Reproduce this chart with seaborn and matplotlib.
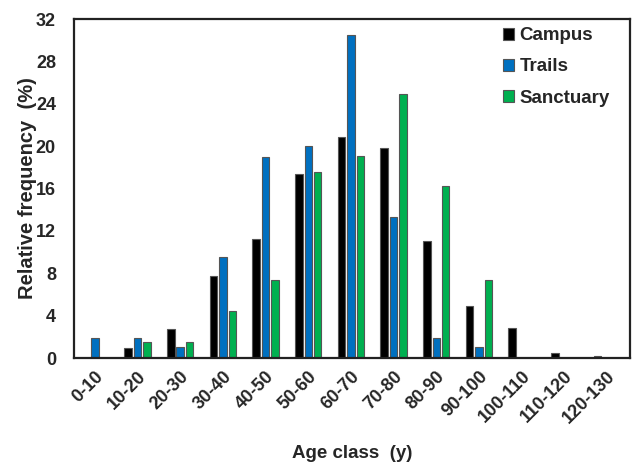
import matplotlib
matplotlib.use("Agg")
import matplotlib.pyplot as plt
import seaborn as sns
import pandas as pd

categories = ["0-10", "10-20", "20-30", "30-40", "40-50", "50-60", "60-70",
              "70-80", "80-90", "90-100", "100-110", "110-120", "120-130"]
campus = [0.0, 0.9, 2.7, 7.7, 11.2, 17.4, 20.9, 19.8, 11.0, 4.9, 2.8, 0.5, 0.2]
trails = [1.9, 1.9, 1.0, 9.5, 19.0, 20.0, 30.5, 13.3, 1.9, 1.0, 0.0, 0.0, 0.0]
sanctuary = [0.0, 1.5, 1.5, 4.4, 7.4, 17.6, 19.1, 24.9, 16.2, 7.4, 0.0, 0.0, 0.0]
series = ["Campus", "Trails", "Sanctuary"]
colors = ["#000000", "#0070C0", "#00B050"]
yticks = [0, 4, 8, 12, 16, 20, 24, 28, 32]

rows = []
for name, vals in zip(series, [campus, trails, sanctuary]):
    for c, v in zip(categories, vals):
        rows.append({"Age": c, "Freq": v, "Site": name})
df = pd.DataFrame(rows)

sns.set_style("white")
plt.rcParams["font.family"] = ["Liberation Sans", "DejaVu Sans"]
plt.rcParams["font.weight"] = "bold"

fig = plt.figure(figsize=(6.33, 4.65), dpi=100)
ax = fig.add_axes([74 / 633, 1 - 358 / 465, (630 - 74) / 633, (358 - 19) / 465])

sns.barplot(data=df, x="Age", y="Freq", hue="Site", order=categories,
            hue_order=series, palette=colors, saturation=1, width=0.66, gap=0.2,
            edgecolor="#555555", linewidth=0.8, ax=ax, legend=True)

ax.set_xlim(-0.49, len(categories) - 0.46)
ax.set_ylim(0, 32)
ax.set_yticks(yticks)
ax.set_yticklabels([str(t) for t in yticks], fontsize=13, fontweight="bold")
ax.set_xticks(range(len(categories)))
ax.set_xticklabels(categories, rotation=45, ha="right", rotation_mode="anchor",
                   fontsize=13, fontweight="bold")
ax.tick_params(axis="both", length=0)
ax.tick_params(axis="y", pad=13)
ax.tick_params(axis="x", pad=7)
ax.set_xlabel("Age class  (y)", fontsize=13.5, fontweight="bold", labelpad=13)
ax.set_ylabel("Relative frequency  (%)", fontsize=14.5, fontweight="bold", labelpad=-1)
for s in ax.spines.values():
    s.set_linewidth(1.6)
    s.set_color("#222222")

leg = ax.legend(loc="upper right", frameon=False, fontsize=13.5, handlelength=0.6,
                handleheight=0.6, handletextpad=0.3, labelspacing=0.75,
                bbox_to_anchor=(0.994, 1.025))
for t in leg.get_texts():
    t.set_fontweight("bold")

fig.savefig("out.png", dpi=100)
